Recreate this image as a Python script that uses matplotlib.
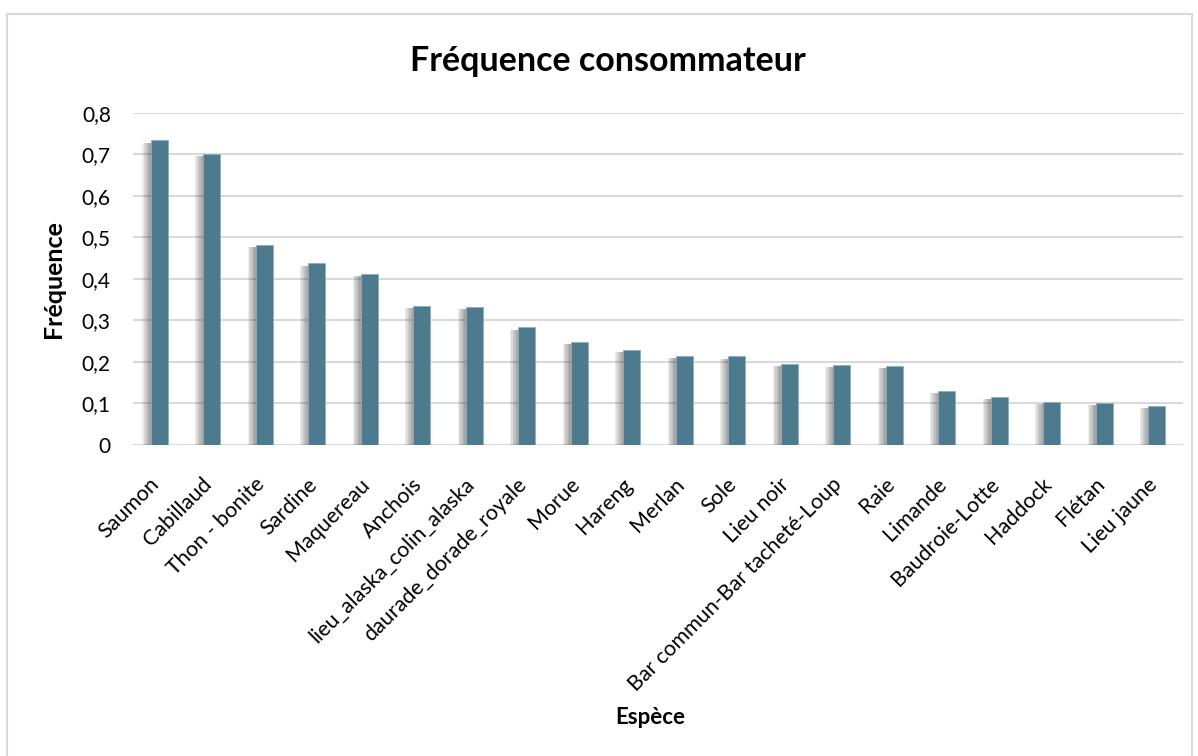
import matplotlib
matplotlib.use("Agg")
import matplotlib.pyplot as plt
import matplotlib.patheffects as pe
import matplotlib.transforms as mtransforms
from matplotlib.patches import Rectangle
from matplotlib.ticker import FuncFormatter

especes = [
    "Saumon", "Cabillaud", "Thon - bonite", "Sardine", "Maquereau", "Anchois",
    "lieu_alaska_colin_alaska", "daurade_dorade_royale", "Morue", "Hareng",
    "Merlan", "Sole", "Lieu noir", "Bar commun-Bar tacheté-Loup", "Raie",
    "Limande", "Baudroie-Lotte", "Haddock", "Flétan", "Lieu jaune",
]
frequences = [
    0.733, 0.700, 0.481, 0.437, 0.411, 0.334, 0.332, 0.283, 0.248, 0.228,
    0.214, 0.213, 0.196, 0.192, 0.191, 0.130, 0.115, 0.104, 0.101, 0.093,
]
y_ticks = [0, 0.1, 0.2, 0.3, 0.4, 0.5, 0.6, 0.7, 0.8]

plt.rcParams["font.family"] = ["Lato", "DejaVu Sans"]

fig = plt.figure(figsize=(11.98, 7.56), dpi=100)
ax = fig.add_axes([0.111, 0.4114, 0.8765, 0.4396])

# light frame around the whole chart
fig.patches.append(Rectangle((7 / 1198, -0.05), 1185 / 1198, 1.05 - 14 / 756,
                             transform=fig.transFigure, fill=False,
                             edgecolor="#d9d9d9", linewidth=1.5))

x = range(len(especes))
bars = ax.bar(x, frequences, width=0.32, color="#4e7a8d",
              edgecolor="#8fb0c0", linewidth=0.6, zorder=3)

# soft shadow on the left of each bar (stacked faint copies)
shadow = [pe.SimplePatchShadow(offset=(-dx, -1.5), shadow_rgbFace="#333333", alpha=0.09)
          for dx in (1, 2, 3, 4, 5, 6)]
for b in bars:
    b.set_path_effects(shadow + [pe.Normal()])

ax.set_xlim(-0.5, len(especes) - 0.5)
ax.set_ylim(0, 0.8)
ax.set_yticks(y_ticks)
ax.yaxis.set_major_formatter(FuncFormatter(lambda v, p: f"{v:g}".replace(".", ",")))
ax.grid(axis="y", color="#d9d9d9", linewidth=1.5, zorder=0)
ax.set_axisbelow(True)
for s in ax.spines.values():
    s.set_visible(False)

ax.set_xticks(list(x))
ax.set_xticklabels(especes, rotation=45, ha="right", va="top",
                   rotation_mode="anchor", fontsize=15.5)
ax.tick_params(axis="x", length=0, pad=21)
ax.tick_params(axis="y", length=0, pad=16, labelsize=15)
shift = mtransforms.ScaledTranslation(-10 / 100, 0, fig.dpi_scale_trans)
for lab in ax.get_xticklabels():
    lab.set_transform(lab.get_transform() + shift)

ax.set_ylabel("Fréquence", fontsize=18, fontweight="bold", labelpad=12)
fig.text(650 / 1198, 1 - 717 / 756, "Espèce", fontsize=16, fontweight="bold",
         ha="center", va="center")
fig.text(608 / 1198, 1 - 61 / 756, "Fréquence consommateur", fontsize=24.5,
         fontweight="bold", ha="center", va="center")

fig.savefig("out.png", dpi=100)
